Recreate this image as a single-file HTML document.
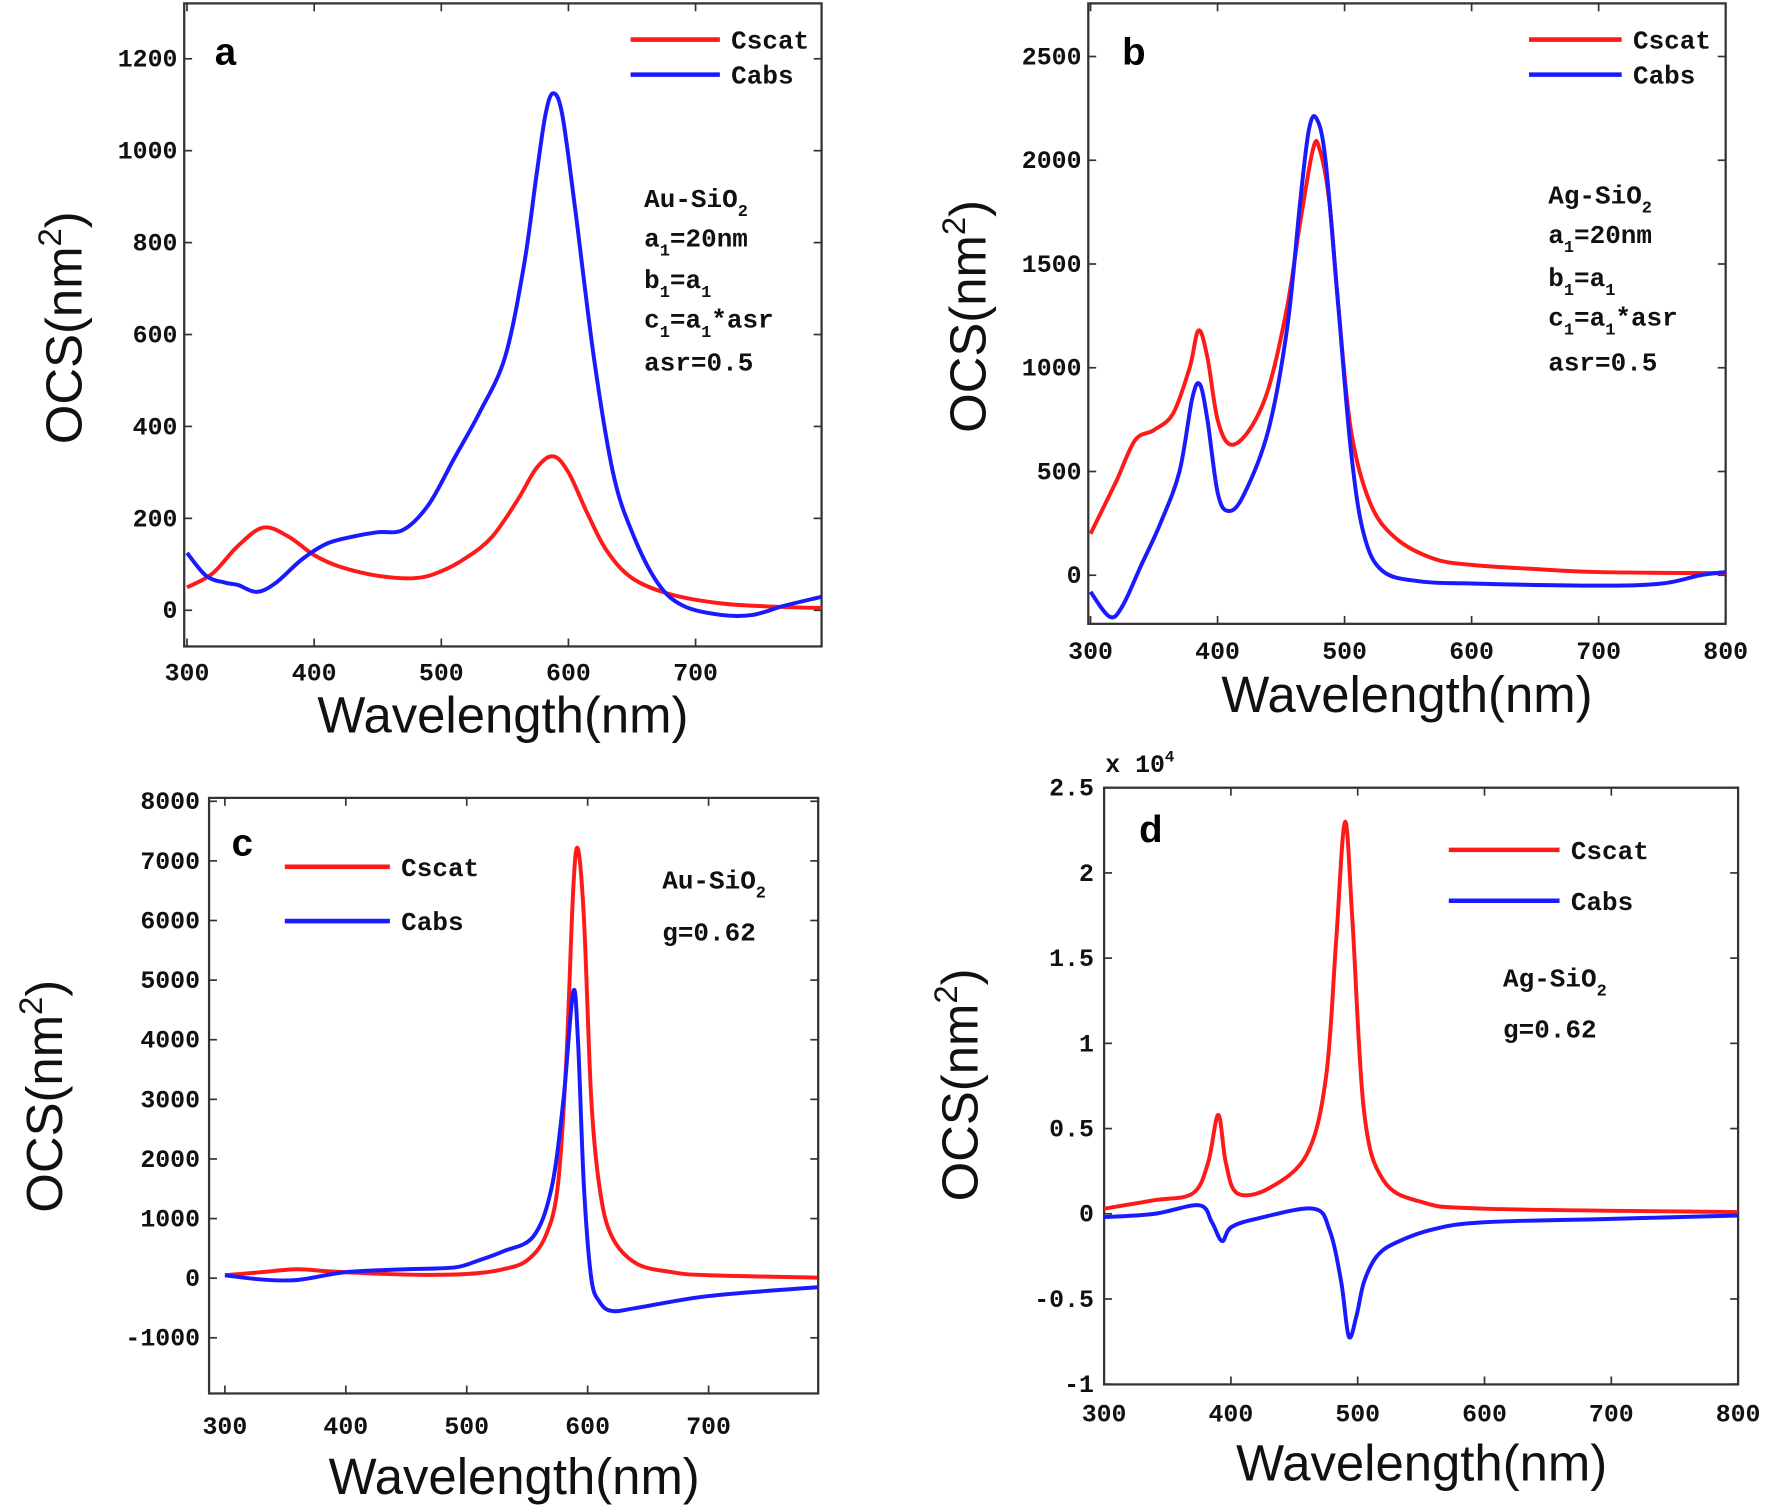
<!DOCTYPE html>
<html><head><meta charset="utf-8"><style>
html,body{margin:0;padding:0;background:#fff}
svg{display:block}
.tk{font-family:"Liberation Mono",monospace;font-weight:bold;font-size:22px;fill:#111}
.ax{font-family:"Liberation Sans",sans-serif;font-size:45px;fill:#111}
.lg{font-family:"Liberation Mono",monospace;font-weight:bold;font-size:23px;fill:#111}
.pl{font-family:"Liberation Sans",sans-serif;font-weight:bold;font-size:34px;fill:#000}
</style></head><body>
<svg id="fig" width="1772" height="1511" viewBox="0 0 1568 1337" preserveAspectRatio="none" xmlns="http://www.w3.org/2000/svg"></svg>
<script>
// Panel a
const aX_cscat=[300,320,340,360,380,400,420,450,480,500,520,540,560,575,588,600,615,630,650,680,720,760,800];
const aY_cscat=[50,80,140,180,160,120,95,75,70,85,115,160,240,310,335,300,210,130,70,35,15,8,5];
const aX_cabs=[300,315,330,340,355,370,390,410,430,450,470,490,510,530,550,565,575,582,588,595,605,620,635,650,670,690,720,745,770,800];
const aY_cabs=[125,75,60,55,40,60,110,145,160,170,175,230,330,430,550,750,950,1080,1125,1080,880,550,300,170,60,10,-10,-10,10,30];
const aYTicks=[0,200,400,600,800,1000,1200];
const aXTicks=[300,400,500,600,700];
// Panel b
const bX_cscat=[300,320,335,350,365,378,385,392,400,410,425,440,455,465,475,480,488,495,505,520,540,570,600,650,700,800];
const bY_cscat=[200,450,650,700,780,1000,1180,1050,750,630,700,900,1300,1700,2050,2060,1800,1300,700,350,180,80,50,30,15,10];
const bX_cabs=[300,315,325,340,355,370,380,386,392,400,408,420,440,455,465,472,478,485,495,505,515,530,560,600,700,750,780,800];
const bY_cabs=[-80,-200,-150,50,250,500,850,920,750,400,310,380,700,1200,1800,2150,2200,2000,1300,600,200,20,-30,-40,-50,-40,0,15];
const bYTicks=[0,500,1000,1500,2000,2500];
const bXTicks=[300,400,500,600,700,800];
// Panel c
const cX_cscat=[300,330,360,390,450,500,530,550,565,575,582,588,592,597,603,610,620,640,670,700,790];
const cY_cscat=[50,100,150,110,60,70,150,300,700,1500,3500,6500,7200,6000,3000,1500,700,250,100,50,10];
const cX_cabs=[300,330,360,400,450,490,510,530,555,570,580,588,592,597,603,610,620,640,700,791];
const cY_cabs=[50,-20,-30,100,150,180,300,450,700,1500,3000,4800,4000,1500,0,-400,-550,-500,-300,-150];
const cYTicks=[-1000,0,1000,2000,3000,4000,5000,6000,7000,8000];
const cXTicks=[300,400,500,600,700];
// Panel d (x 1e4)
const dX_cscat=[300,340,370,382,390,396,405,430,460,475,483,490,496,505,520,550,600,800];
const dY_cscat=[0.03,0.08,0.12,0.3,0.58,0.3,0.12,0.15,0.35,0.8,1.6,2.3,1.7,0.6,0.2,0.07,0.03,0.01];
const dX_cabs=[300,340,375,385,393,400,420,465,478,487,493,499,505,515,530,560,600,700,800];
const dY_cabs=[-0.02,0,0.05,-0.05,-0.16,-0.08,-0.03,0.03,-0.1,-0.4,-0.72,-0.6,-0.4,-0.25,-0.17,-0.09,-0.05,-0.03,-0.01];
const dYTicks=[-1,-0.5,0,0.5,1,1.5,2,2.5];
const dYLabels=["-1","-0.5","0","0.5","1","1.5","2","2.5"];
const dXTicks=[300,400,500,600,700,800];

const NS="http://www.w3.org/2000/svg";
const svg=document.getElementById('fig');
function mk(tag,attrs,parent){const e=document.createElementNS(NS,tag);for(const k in attrs)e.setAttribute(k,attrs[k]);(parent||svg).appendChild(e);return e;}
function txt(s,x,y,cls,anchor,parent){const t=mk('text',{x:x,y:y,class:cls,'text-anchor':anchor||'start'},parent);t.textContent=s;return t;}
function smooth(pts){let d='M'+pts[0][0].toFixed(1)+','+pts[0][1].toFixed(1);
 for(let i=0;i<pts.length-1;i++){const p0=pts[Math.max(0,i-1)],p1=pts[i],p2=pts[i+1],p3=pts[Math.min(pts.length-1,i+2)];
  const c1=[p1[0]+(p2[0]-p0[0])/6,p1[1]+(p2[1]-p0[1])/6],c2=[p2[0]-(p3[0]-p1[0])/6,p2[1]-(p3[1]-p1[1])/6];
  d+='C'+c1.map(v=>v.toFixed(1))+' '+c2.map(v=>v.toFixed(1))+' '+p2[0].toFixed(1)+','+p2[1].toFixed(1);}return d;}

function panel(p){
 const g=mk('g',{});
 
 
 const sx=v=>p.x0px+(v-p.x0)*(p.x1px-p.x0px)/(p.x1-p.x0);
 const sy=v=>p.y0px+(v-p.y0)*(p.y1px-p.y0px)/(p.y1-p.y0);
 const cp=mk('clipPath',{id:'clip'+p.id},g);mk('rect',{x:p.L,y:p.T,width:p.R-p.L,height:p.B-p.T},cp);
 const box=mk('rect',{x:p.L,y:p.T,width:p.R-p.L,height:p.B-p.T,fill:'none',stroke:'#333','stroke-width':2},g);
 
 
 p.yt.forEach((v,i)=>{const y=sy(v);
  mk('line',{x1:p.L,y1:y,x2:p.L+7,y2:y,stroke:'#333','stroke-width':1.5},g);
  mk('line',{x1:p.R,y1:y,x2:p.R-7,y2:y,stroke:'#333','stroke-width':1.5},g);
  const t=txt(p.yl?p.yl[i]:String(v),p.ylx,y+7,'tk','end',g);
  
  });
 p.xt.forEach(v=>{const x=sx(v);
  mk('line',{x1:x,y1:p.B,x2:x,y2:p.B-7,stroke:'#333','stroke-width':1.5},g);
  mk('line',{x1:x,y1:p.T,x2:x,y2:p.T+7,stroke:'#333','stroke-width':1.5},g);
  const t=txt(String(v),x,p.xly,'tk','middle',g);
  
  });
 [[p.cx,p.cy,'#ff1a1a','cscat'],[p.bx,p.by,'#1a1aff','cabs']].forEach(s=>{
  const pts=s[0].map((v,i)=>[sx(v),sy(s[1][i])]);
  const path=mk('path',{d:smooth(pts),fill:'none',stroke:s[2],'stroke-width':3.5,'clip-path':'url(#clip'+p.id+')'},g);
  
  });
 [[p.lg[2],'#ff1a1a','Cscat'],[p.lg[3],'#1a1aff','Cabs']].forEach(l=>{
  mk('line',{x1:p.lg[0],y1:l[0],x2:p.lg[1],y2:l[0],stroke:l[1],'stroke-width':4},g);
  const t=txt(l[2],p.lg[1]+10,l[0]+8,'lg','start',g);
  
  });
 const xl=txt('Wavelength(nm)',p.xlab[0],p.xlab[1],'ax','middle',g);
 
 
 const yl=mk('text',{x:0,y:0,class:'ax','text-anchor':'middle',transform:'translate('+p.ylab[0]+','+p.ylab[1]+') rotate(-90)'},g);
 yl.innerHTML='OCS(nm<tspan dy="-18" font-size="29">2</tspan><tspan dy="18">)</tspan>';
 
 
 const pl=txt(p.id,p.letter[0],p.letter[1],'pl','start',g);
 
 
 p.ann.forEach((a,i)=>{const t=mk('text',{x:p.annx,y:p.anny[i],class:'lg'},g);t.innerHTML=a;
  
  });
}
const sub=s=>'<tspan dy="8" font-size="15">'+s+'</tspan><tspan dy="-8">';
const shapeAnn=['Au-SiO'+sub('2')+'</tspan>','a'+sub('1')+'=20nm</tspan>','b'+sub('1')+'=a</tspan>'+sub('1')+'</tspan>','c'+sub('1')+'=a</tspan>'+sub('1')+'*asr</tspan>','asr=0.5'];
panel({id:'a',L:163,R:727,T:3,B:572,x0:300,x1:800,x0px:165.5,x1px:728,y0:0,y1:1200,y0px:540,y1px:52,
 yt:aYTicks,xt:aXTicks,ylx:157,xly:602,cx:aX_cscat,cy:aY_cscat,bx:aX_cabs,by:aY_cabs,lg:[558,637,35,66],
 xlab:[445,648],ylab:[72,290],letter:[190,57],ann:shapeAnn,annx:570,anny:[183,218,255,290,328]});
panel({id:'b',L:963,R:1527,T:3,B:552,x0:300,x1:800,x0px:965,x1px:1527,y0:0,y1:2500,y0px:509,y1px:50,
 yt:bYTicks,xt:bXTicks,ylx:957,xly:583,cx:bX_cscat,cy:bY_cscat,bx:bX_cabs,by:bY_cabs,lg:[1353,1435,35,66],
 xlab:[1245,630],ylab:[872,280],letter:[993,57],ann:shapeAnn.map(s=>s.replace('Au','Ag')),annx:1370,anny:[180,215,253,288,328]});
panel({id:'c',L:185,R:724,T:706,B:1233,x0:300,x1:700,x0px:199,x1px:627,y0:0,y1:8000,y0px:1131,y1px:709,
 yt:cYTicks,xt:cXTicks,ylx:177,xly:1269,cx:cX_cscat,cy:cY_cscat,bx:cX_cabs,by:cY_cabs,lg:[252,345,767,815],
 xlab:[455,1322],ylab:[55,970],letter:[205,757],ann:['Au-SiO'+sub('2')+'</tspan>','g=0.62'],annx:586,anny:[786,832]});
panel({id:'d',L:977,R:1538,T:697,B:1225,x0:300,x1:800,x0px:977,x1px:1538,y0:0,y1:2.5,y0px:1074,y1px:697,
 yt:dYTicks,yl:dYLabels,xt:dXTicks,ylx:968,xly:1258,cx:dX_cscat,cy:dY_cscat,bx:dX_cabs,by:dY_cabs,lg:[1282,1380,752,797],
 xlab:[1258,1310],ylab:[865,960],letter:[1008,745],ann:['Ag-SiO'+sub('2')+'</tspan>','g=0.62'],annx:1330,anny:[873,918]});
const ex=mk('text',{x:978,y:683,class:'tk'});ex.innerHTML='x 10<tspan dy="-9" font-size="14">4</tspan>';


</script>
</body></html>
